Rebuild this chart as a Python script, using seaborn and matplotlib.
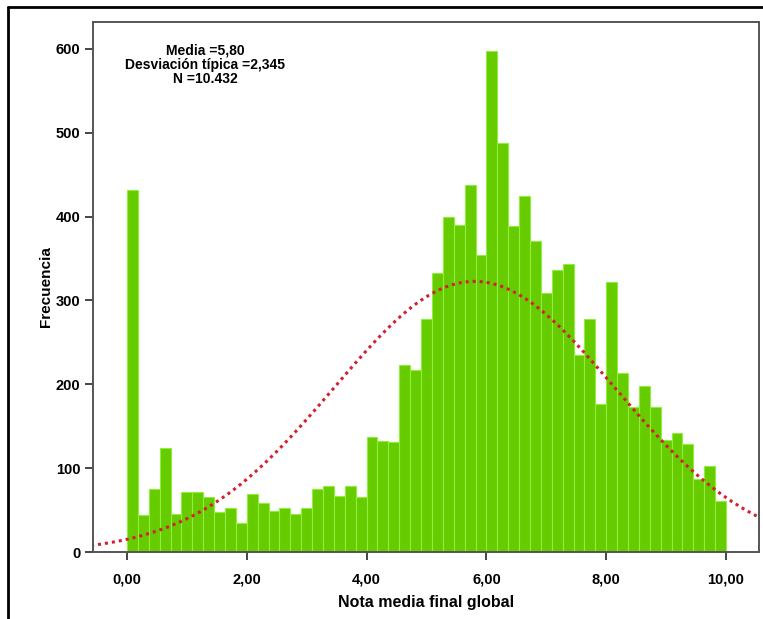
import numpy as np
import pandas as pd
import matplotlib
matplotlib.use("Agg")
import matplotlib.pyplot as plt
from matplotlib.lines import Line2D
import seaborn as sns

# ---- data ----
bin_counts = [432, 44, 75, 124, 45, 72, 72, 65, 48, 52, 34, 69, 58, 49, 53, 45, 53, 75, 79, 67, 79, 65,
              137, 132, 131, 223, 217, 278, 333, 400, 390, 438, 354, 597, 488, 389, 424, 371, 309, 336,
              343, 235, 278, 176, 322, 214, 173, 198, 173, 133, 142, 129, 87, 103, 61]
x_min, x_max = 0.0, 10.0
mean_val = 5.80
sd_val = 2.345
n_val = 10432
x_ticks = [0, 2, 4, 6, 8, 10]
x_tick_labels = ["0,00", "2,00", "4,00", "6,00", "8,00", "10,00"]
y_ticks = [0, 100, 200, 300, 400, 500, 600]
stats_text = "Media =5,80\nDesviación típica =2,345\nN =10.432"
x_label = "Nota media final global"
y_label = "Frecuencia"

nbins = len(bin_counts)
edges = np.linspace(x_min, x_max, nbins + 1)
centers = (edges[:-1] + edges[1:]) / 2
width = edges[1] - edges[0]
df = pd.DataFrame({"nota": centers, "freq": np.array(bin_counts, dtype=float)})

sns.set_style("white")
plt.rcParams["font.family"] = ["Liberation Sans", "DejaVu Sans"]
plt.rcParams["text.color"] = "black"
plt.rcParams["axes.labelcolor"] = "black"
plt.rcParams["xtick.color"] = "black"
plt.rcParams["ytick.color"] = "black"

W, H = 763, 619
fig = plt.figure(figsize=(W / 100, H / 100), dpi=100)
ax = fig.add_axes([93 / W, 1 - 552 / H, (759 - 93) / W, (552 - 22) / H])

sns.histplot(data=df, x="nota", weights="freq", bins=nbins, binrange=(x_min, x_max), ax=ax,
             color="#66cc00", edgecolor="#8ef03a", linewidth=0.8, alpha=1.0)

# normal curve
xs = np.linspace(-0.6, 10.6, 400)
ys = n_val * width * np.exp(-0.5 * ((xs - mean_val) / sd_val) ** 2) / (sd_val * np.sqrt(2 * np.pi))
ax.plot(xs, ys, color="#d42030", linewidth=2.2, linestyle=(0, (1, 1.3)))

ax.set_xlim(-0.567, 10.55)
ax.set_ylim(0, 632)
ax.set_xticks(x_ticks)
ax.set_xticklabels(x_tick_labels)
ax.set_yticks(y_ticks)
ax.tick_params(axis="both", direction="out", length=6, width=1.4, color="#444444",
               labelsize=10.5, pad=3, bottom=True, left=True, labelcolor="black")
ax.tick_params(axis="x", pad=9)
for lab in ax.get_xticklabels() + ax.get_yticklabels():
    lab.set_fontweight("bold")
for sp in ax.spines.values():
    sp.set_color("#555555")
    sp.set_linewidth(1.4)
    sp.set_visible(True)

ax.set_xlabel(x_label, fontsize=11.5, fontweight="bold", labelpad=6, color="black")
ax.set_ylabel(y_label, fontsize=11, fontweight="bold", labelpad=2, color="black")

ax.text(1.30, 581, stats_text, ha="center", va="center", fontsize=10, fontweight="bold",
        linespacing=1.05, color="black")

# outer frame (top and left lines)
fig.add_artist(Line2D([8 / W, 8 / W], [0, 1 - 7 / H], transform=fig.transFigure, color="black", lw=2))
fig.add_artist(Line2D([8 / W, 1], [1 - 7 / H, 1 - 7 / H], transform=fig.transFigure, color="black", lw=2))

fig.savefig("out.png", dpi=100)
